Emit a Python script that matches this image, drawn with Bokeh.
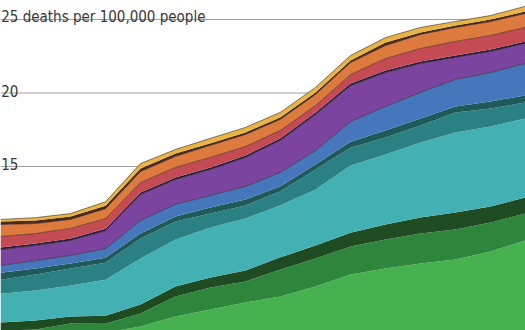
import numpy as np
from bokeh.plotting import figure
from bokeh.models import Range1d
from bokeh.core.properties import value
from bokeh.embed import file_html
from bokeh.resources import INLINE

# ---- data (deaths per 100,000 people), stacked bottom -> top ----
years = list(range(2000, 2016))

light_green = [2.82, 3.16, 3.57, 3.70, 4.12, 4.80, 5.27, 5.75, 6.16, 6.84, 7.65, 8.06, 8.40, 8.67, 9.22, 9.97]
mid_green   = [1.02, 0.75, 0.75, 0.61, 0.88, 1.36, 1.50, 1.43, 1.84, 1.90, 1.90, 1.97, 2.04, 2.04, 1.97, 1.84]
dark_green  = [0.54, 0.61, 0.48, 0.54, 0.61, 0.68, 0.68, 0.75, 0.82, 0.88, 0.95, 1.02, 1.09, 1.16, 1.09, 1.09]
cyan        = [1.97, 2.04, 2.11, 2.45, 3.13, 3.20, 3.40, 3.54, 3.54, 3.81, 4.56, 4.76, 5.10, 5.44, 5.44, 5.37]
teal        = [0.95, 1.09, 1.16, 1.16, 1.36, 1.22, 0.95, 0.88, 0.95, 1.36, 1.22, 1.16, 1.16, 1.36, 1.22, 1.09]
slate       = [0.48, 0.41, 0.34, 0.34, 0.34, 0.34, 0.41, 0.41, 0.34, 0.34, 0.41, 0.48, 0.48, 0.41, 0.48, 0.48]
blue        = [0.48, 0.54, 0.54, 0.61, 0.88, 0.82, 0.82, 0.88, 0.95, 0.95, 1.36, 1.63, 1.77, 1.84, 1.97, 2.18]
purple      = [1.09, 1.02, 1.02, 1.22, 1.77, 1.70, 1.77, 1.97, 2.18, 2.45, 2.45, 2.31, 1.97, 1.50, 1.43, 1.36]
dark_purple = [0.14, 0.14, 0.14, 0.14, 0.14, 0.14, 0.14, 0.14, 0.14, 0.14, 0.14, 0.14, 0.14, 0.14, 0.14, 0.14]
red         = [0.75, 0.68, 0.68, 0.68, 0.68, 0.68, 0.68, 0.61, 0.54, 0.48, 0.61, 0.82, 0.88, 0.95, 0.95, 0.95]
orange      = [0.82, 0.68, 0.61, 0.68, 0.75, 0.75, 0.82, 0.82, 0.75, 0.75, 0.82, 0.88, 0.95, 0.95, 0.95, 0.95]
brown       = [0.20, 0.20, 0.20, 0.20, 0.20, 0.20, 0.14, 0.14, 0.14, 0.14, 0.14, 0.20, 0.14, 0.14, 0.14, 0.14]
yellow      = [0.14, 0.20, 0.20, 0.27, 0.34, 0.27, 0.34, 0.34, 0.34, 0.34, 0.34, 0.34, 0.34, 0.27, 0.27, 0.34]

tick_values = [15, 20, 25]
tick_labels = ["15", "20", "25 deaths per 100,000 people"]

layers = [light_green, mid_green, dark_green, cyan, teal, slate, blue,
          purple, dark_purple, red, orange, brown, yellow]
colors = ["#46b14f", "#2e863d", "#1f4b23", "#43b0b4", "#2b8083", "#1e5a59", "#4677bd",
          "#7b459f", "#2f1e46", "#c44b53", "#dc7b3d", "#4b2c1d", "#e8b443"]
outline = [False, False, False, False, False, False, True,
           True, False, True, True, False, True]

# ---- figure ----
p = figure(width=525, height=330, output_backend="svg", toolbar_location=None,
           x_range=Range1d(2000, 2015), y_range=Range1d(3.844, 26.293),
           min_border=0, min_border_left=0, min_border_right=0,
           min_border_top=0, min_border_bottom=0)
p.axis.visible = False
p.xgrid.visible = False
p.ygrid.visible = False
p.outline_line_color = None
p.background_fill_color = "white"
p.border_fill_color = "white"

x = np.array(years, dtype=float)

# gridlines behind the areas
for t in tick_values:
    p.line([years[0], years[-1]], [t, t], line_color="#a0a0a0", line_width=1)

px_per_unit = 330 / (26.293 - 3.844)
for t, lab in zip(tick_values, tick_labels):
    p.text(x=[years[0] + 0.02], y=[t + 2.5 / px_per_unit], text=[lab],
           text_font=value("'DejaVu Sans Condensed', Roboto, sans-serif"),
           text_font_size="15px",
           text_color="#383838", text_baseline="alphabetic", text_align="left")

base = np.zeros(len(years))
tops = []
for vals, col in zip(layers, colors):
    top = base + np.array(vals)
    p.varea(x=x, y1=base, y2=top, fill_color=col)
    tops.append(top)
    base = top

for top, ol in zip(tops, outline):
    if ol:
        p.line(x, top, line_color="#2a1a1a", line_width=0.8, line_alpha=0.7)

open("out.html", "w").write(file_html(p, INLINE))
